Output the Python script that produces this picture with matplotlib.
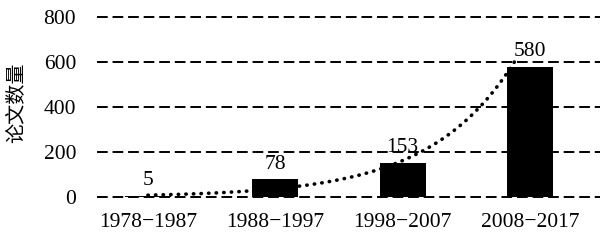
import numpy as np
import matplotlib.pyplot as plt

periods = ['1978\u22121987', '1988\u22121997', '1998\u22122007', '2008\u22122017']
counts = [5, 78, 153, 580]

plt.rcParams['font.family'] = ['Liberation Serif', 'Noto Sans CJK SC']

fig = plt.figure(figsize=(6.14, 2.4), dpi=100)
ax = fig.add_axes([97 / 614, (240 - 198.8) / 240, 503 / 614, 183.6 / 240])

x = np.arange(len(periods))
ax.bar(x, counts, width=0.36, color='black', zorder=3)

for xi, c in zip(x, counts):
    ax.annotate(str(c), (xi, c), xytext=(0, 4), textcoords='offset points',
                ha='center', va='bottom', fontsize=15.5)

# exponential trend line (fit on x = 1..n, as a spreadsheet does)
k, b = np.polyfit(x + 1, np.log(counts), 1)
xt = np.linspace(0, 2.9, 200)
ax.plot(xt, np.exp(b + k * (xt + 1)), color='black', lw=2.6,
        linestyle=(0, (0.1, 2.0)), dash_capstyle='round', zorder=4)

ax.set_xlim(-0.4, 3.55)
ax.set_ylim(-8, 808)
ax.set_yticks([0, 200, 400, 600, 800])
ax.set_xticks(x)
ax.set_xticklabels(periods)
ax.yaxis.grid(True, color='black', lw=1.4, linestyle=(0, (5.5, 2.5)), zorder=0)
ax.tick_params(axis='both', length=0, labelsize=15.5)
ax.tick_params(axis='y', pad=15)
ax.tick_params(axis='x', pad=10)
for s in ax.spines.values():
    s.set_visible(False)

fig.text(16 / 614, (240 - 103) / 240, '论文数量', rotation=90, ha='center', va='center',
         fontsize=14.5, family=['Noto Sans CJK SC'])

fig.savefig('out.png', dpi=100)
